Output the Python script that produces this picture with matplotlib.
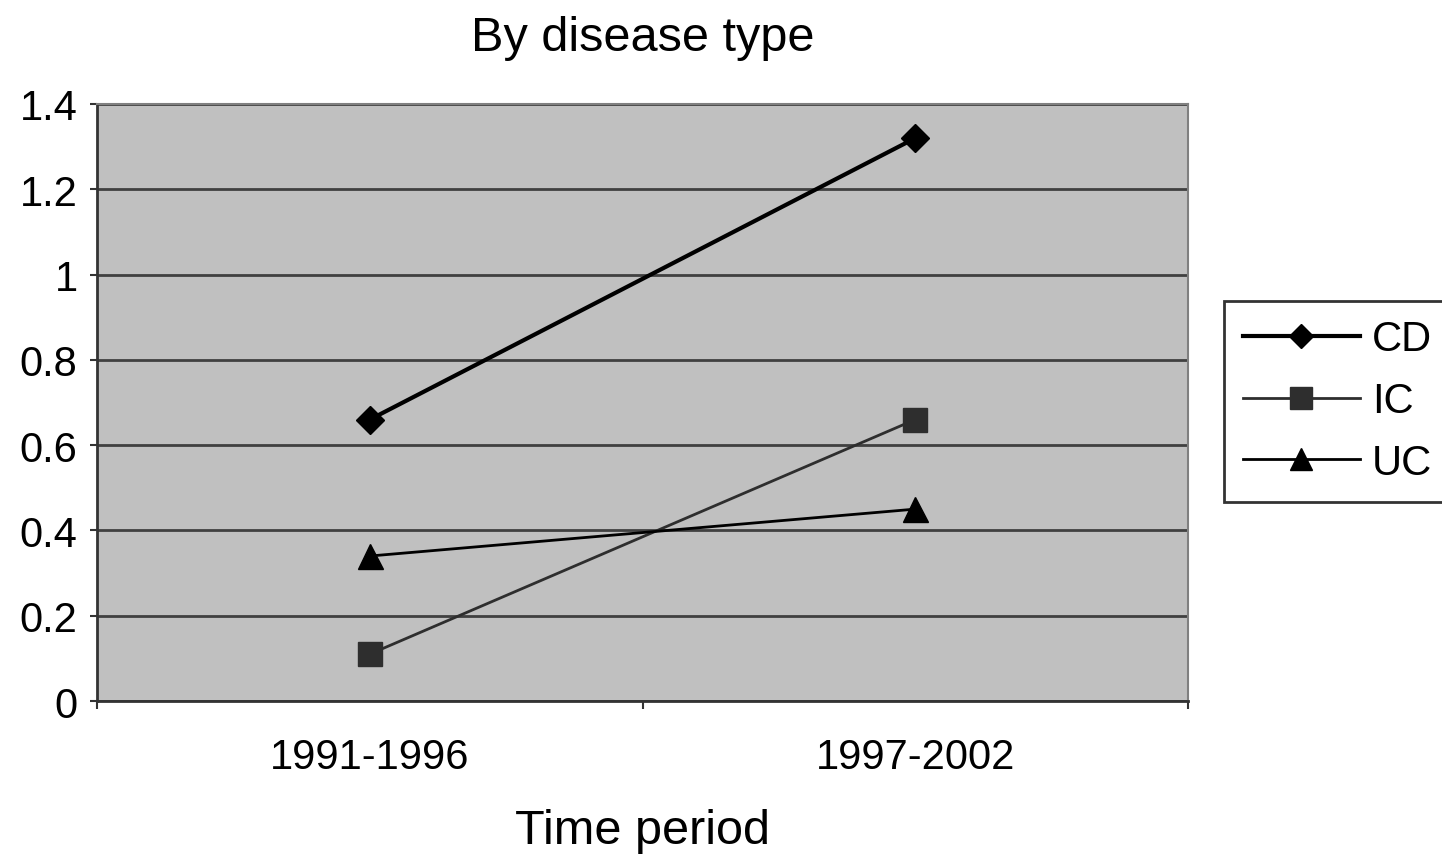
import matplotlib
matplotlib.use("Agg")
import matplotlib.pyplot as plt
from matplotlib.ticker import FuncFormatter

plt.rcParams['font.family'] = ['Liberation Sans', 'DejaVu Sans']

# Data
periods = ['1991-1996', '1997-2002']
series_names = ['CD', 'IC', 'UC']
cd_values = [0.66, 1.32]
ic_values = [0.11, 0.66]
uc_values = [0.34, 0.45]

fig = plt.figure(figsize=(14.42, 8.62), dpi=100)
ax = fig.add_axes([0.0673, 0.1856, 0.7566, 0.6926])
ax.set_facecolor('#c0c0c0')

xpos = [0.5, 1.5]
ax.plot(xpos, cd_values, color='black', lw=3, marker='D', markersize=14, label=series_names[0])
ax.plot(xpos, ic_values, color='#2e2e2e', lw=2, marker='s', markersize=17, label=series_names[1])
ax.plot(xpos, uc_values, color='black', lw=2, marker='^', markersize=18, label=series_names[2])

ax.set_xlim(0, 2)
ax.set_ylim(0, 1.4)
ax.set_yticks([0, 0.2, 0.4, 0.6, 0.8, 1.0, 1.2, 1.4])
ax.yaxis.set_major_formatter(FuncFormatter(lambda v, p: f"{v:g}"))
ax.set_xticks([0, 1, 2])
ax.set_xticklabels([])
ax.set_xticks(xpos, minor=True)
ax.set_xticklabels(periods, minor=True)
ax.tick_params(axis='x', which='minor', length=0, pad=26, labelsize=30)
ax.tick_params(axis='x', which='major', length=6, width=1.5, color='#333333')
ax.tick_params(axis='y', length=5, width=1.5, color='#333333', labelsize=30, pad=9)

ax.grid(axis='y', color='#404040', lw=2)
ax.set_axisbelow(True)
for side in ['top', 'right']:
    ax.spines[side].set_color('#808080')
    ax.spines[side].set_linewidth(1.5)
for side in ['left', 'bottom']:
    ax.spines[side].set_color('#333333')
    ax.spines[side].set_linewidth(2)

ax.set_title('By disease type', fontsize=35, pad=39)
ax.set_xlabel('Time period', fontsize=35, labelpad=22)

leg = ax.legend(loc='upper left', bbox_to_anchor=(0.849, 0.650), bbox_transform=fig.transFigure,
                borderaxespad=0, fontsize=30, frameon=True, fancybox=False, edgecolor='black',
                handlelength=2.8, handletextpad=0.3, borderpad=0.45, labelspacing=0.52,
                markerscale=0.9)
leg.get_frame().set_linewidth(2)

fig.savefig('out.png', dpi=100)
